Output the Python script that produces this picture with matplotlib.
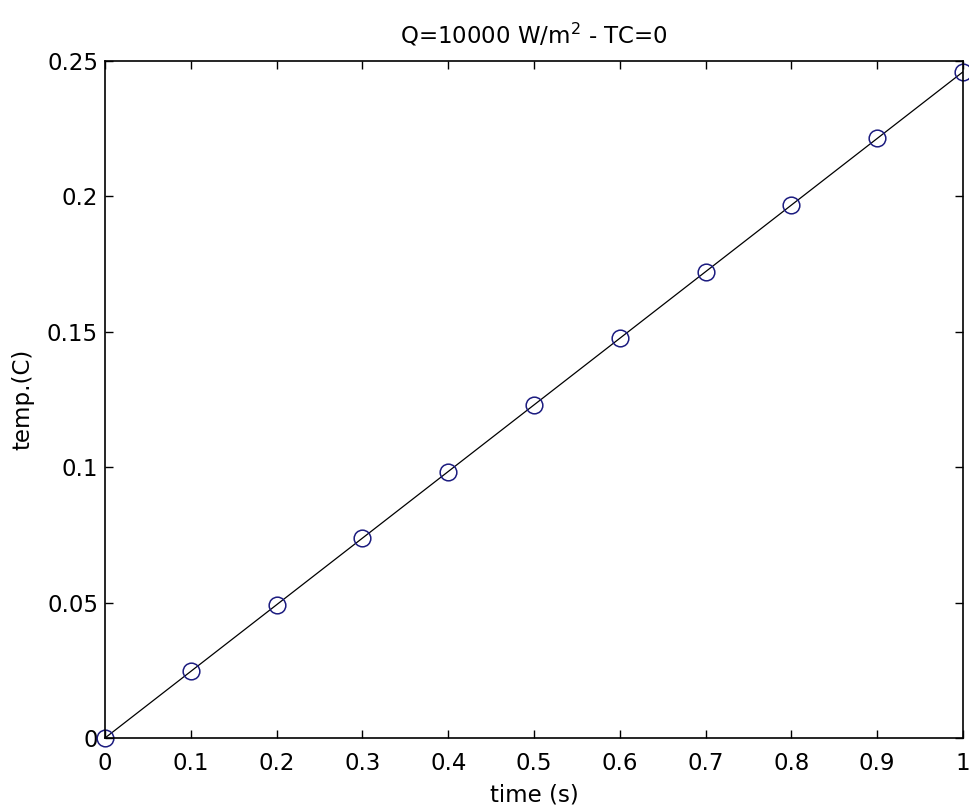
import matplotlib
matplotlib.use("Agg")
import matplotlib.pyplot as plt

time_s = [0.0, 0.1, 0.2, 0.3, 0.4, 0.5, 0.6, 0.7, 0.8, 0.9, 1.0]
temp_c = [0.0, 0.0246, 0.0492, 0.0738, 0.0984, 0.1230, 0.1476, 0.1722, 0.1968, 0.2214, 0.2460]
xticks = [0, 0.1, 0.2, 0.3, 0.4, 0.5, 0.6, 0.7, 0.8, 0.9, 1]
xticklabels = ["0", "0.1", "0.2", "0.3", "0.4", "0.5", "0.6", "0.7", "0.8", "0.9", "1"]
yticks = [0, 0.05, 0.1, 0.15, 0.2, 0.25]
yticklabels = ["0", "0.05", "0.1", "0.15", "0.2", "0.25"]

plt.rcParams['font.family'] = ['DejaVu Sans']
plt.rcParams['mathtext.fontset'] = 'dejavusans'
FS = 16.5
fig = plt.figure(figsize=(9.70, 8.05), dpi=100)
ax = fig.add_axes([105/970, 1-738/805, (963-105)/970, (738-61)/805])

ax.plot(time_s, temp_c, color='black', linewidth=0.9)
ax.plot(time_s, temp_c, linestyle='none', marker='o', markersize=12,
        markerfacecolor='none', markeredgecolor='#1c1c80', markeredgewidth=1.1,
        clip_on=False)

ax.set_xlim(0, 1)
ax.set_ylim(0, 0.25)
ax.set_xticks(xticks)
ax.set_xticklabels(xticklabels)
ax.set_yticks(yticks)
ax.set_yticklabels(yticklabels)
ax.tick_params(direction='in', top=True, right=True, length=6, width=1.0,
               labelsize=FS)
ax.tick_params(axis='x', pad=10)
ax.tick_params(axis='y', pad=5)
for s in ax.spines.values():
    s.set_linewidth(1.2)

ax.set_xlabel("time (s)", fontsize=FS, labelpad=6)
ax.set_ylabel("temp.(C)", fontsize=FS, labelpad=9)
ax.set_title("Q=10000 W/m$^2$ - TC=0", fontsize=FS, pad=13)

fig.savefig("out.png", dpi=100)
